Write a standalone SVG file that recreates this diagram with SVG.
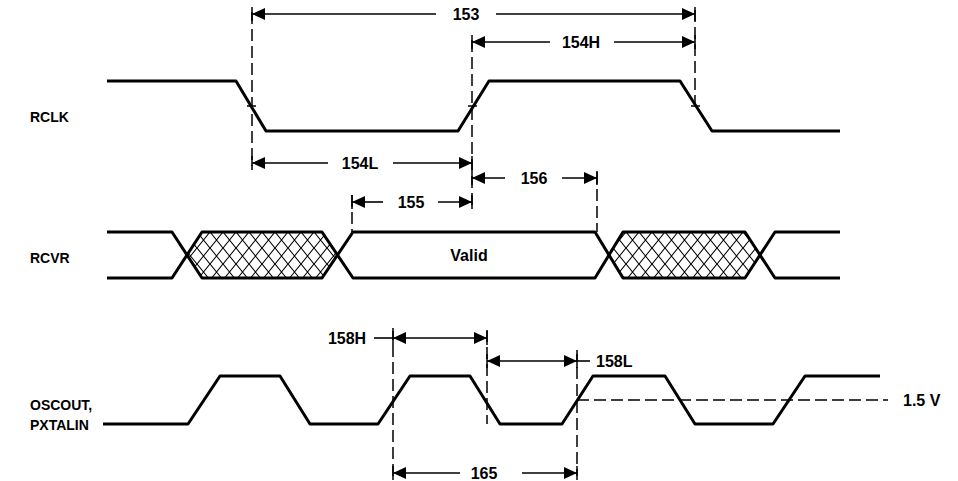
<svg xmlns="http://www.w3.org/2000/svg" width="958" height="481" viewBox="0 0 958 481">
<style>
.w{fill:none;stroke:#000;stroke-width:3;stroke-linejoin:round}
.d{fill:none;stroke:#000;stroke-width:1.5}
.ds{fill:none;stroke:#000;stroke-width:1.5;stroke-dasharray:12,5}
.dm{fill:none;stroke:#000;stroke-width:1.6}
.t{font-family:"Liberation Sans",Arial,sans-serif;font-weight:bold;font-size:16px;fill:#000}
.lb{font-family:"Liberation Sans",Arial,sans-serif;font-weight:bold;font-size:14px;fill:#000}
.h{fill:url(#hatch);stroke:none}
</style>
<defs>
<marker id="arr" markerUnits="userSpaceOnUse" markerWidth="16" markerHeight="16" viewBox="-14 -8 16 16" refX="0" refY="0" orient="auto-start-reverse">
<path d="M0,0 L-13,-6 L-13,6 Z" fill="#000"/>
<path d="M0,-7 V7" stroke="#000" stroke-width="1.5"/>
</marker>
<pattern id="hatch" patternUnits="userSpaceOnUse" width="13" height="16" x="2" y="232">
<path d="M0,0 L13,16 M0,16 L13,0" stroke="#000" stroke-width="1.1"/>
</pattern>
</defs>
<rect width="958" height="481" fill="#fff"/>

<g id="labels">
<text class="lb" x="30" y="122">RCLK</text>
<text class="lb" x="30" y="263">RCVR</text>
<text class="lb" x="30" y="410">OSCOUT,</text>
<text class="lb" x="30" y="430">PXTALIN</text>
</g>

<g id="rclk">
<polyline class="w" points="107,81 236,81 266,131 458,131 489,81 680,81 712,131 840,131"/>
<path class="d" d="M247,106 h9 M468,106 h9 M691,106 h9"/>
</g>

<g id="rcvr">
<polygon class="h" points="187,255 202,232 322,232 337,255 322,278 202,278"/>
<polygon class="h" points="609,255 623,232 745,232 760,255 745,278 623,278"/>
<polyline class="w" points="107,232 172,232 202,278 322,278 353,232 595,232 623,278 745,278 775,232 840,232"/>
<polyline class="w" points="107,278 172,278 202,232 322,232 353,278 595,278 623,232 745,232 775,278 840,278"/>
<text class="t" x="469" y="261" text-anchor="middle">Valid</text>
</g>

<g id="oscout">
<polyline class="w" points="103,424 188,424 220,376 280,376 310,424 378,424 410,376 470,376 500,424 562,424 593,376 665,376 695,424 773,424 805,376 880,376"/>
<path class="ds" d="M577,400 H888"/>
<text class="t" x="903" y="406">1.5 V</text>
</g>

<g id="connectors">
<path class="ds" d="M252,12 V166"/>
<path class="ds" d="M472,40 V210"/>
<path class="ds" d="M695,10 V104"/>
<path class="ds" d="M352,195 V232"/>
<path class="ds" d="M597,172 V232"/>
<path class="ds" d="M393,328 V481"/>
<path class="ds" d="M487,330 V424"/>
<path class="ds" d="M577,350 V476"/>

<!-- 153 -->
<path class="dm" d="M436,14 H252" marker-end="url(#arr)"/>
<path class="dm" d="M496,14 H695" marker-end="url(#arr)"/>
<text class="t" x="466" y="20" text-anchor="middle">153</text>
<!-- 154H -->
<path class="dm" d="M550,42 H472" marker-end="url(#arr)"/>
<path class="dm" d="M614,42 H695" marker-end="url(#arr)"/>
<text class="t" x="581" y="48" text-anchor="middle">154H</text>
<!-- 154L -->
<path class="dm" d="M328,163 H252" marker-end="url(#arr)"/>
<path class="dm" d="M393,163 H472" marker-end="url(#arr)"/>
<text class="t" x="360" y="169" text-anchor="middle">154L</text>
<!-- 156 -->
<path class="dm" d="M505,178 H472" marker-end="url(#arr)"/>
<path class="dm" d="M562,178 H597" marker-end="url(#arr)"/>
<text class="t" x="534" y="184" text-anchor="middle">156</text>
<!-- 155 -->
<path class="dm" d="M383,202 H352" marker-end="url(#arr)"/>
<path class="dm" d="M438,202 H472" marker-end="url(#arr)"/>
<text class="t" x="411" y="208" text-anchor="middle">155</text>
<!-- 158H -->
<path class="dm" d="M374,338 H393"/>
<path class="dm" d="M440,338 H393" marker-end="url(#arr)"/>
<path class="dm" d="M440,338 H487" marker-end="url(#arr)"/>
<text class="t" x="347" y="344" text-anchor="middle">158H</text>
<!-- 158L -->
<path class="dm" d="M532,361 H487" marker-end="url(#arr)"/>
<path class="dm" d="M532,361 H577" marker-end="url(#arr)"/>
<path class="dm" d="M577,361 H590"/>
<text class="t" x="596" y="367">158L</text>
<!-- 165 -->
<path class="dm" d="M460,473 H393" marker-end="url(#arr)"/>
<path class="dm" d="M522,473 H577" marker-end="url(#arr)"/>
<text class="t" x="484" y="479" text-anchor="middle">165</text>
</g>
</svg>
